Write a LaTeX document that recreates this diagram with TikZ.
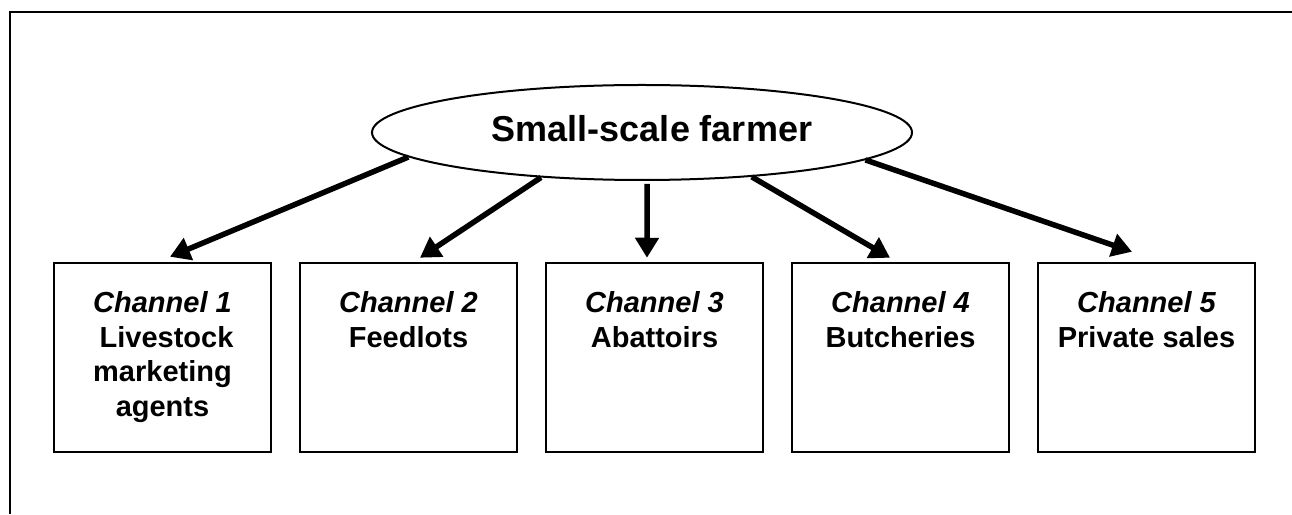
\documentclass[tikz,border=0pt]{standalone}
\usepackage{fontspec}
\setmainfont{Liberation Sans}
\usetikzlibrary{shapes.geometric,arrows.meta,calc}
\begin{document}
\begin{tikzpicture}[x=1pt,y=1pt,
  chanbox/.style={draw,line width=2.5pt,minimum width=217pt,minimum height=189pt,inner sep=0pt},
  chantext/.style={anchor=north,align=center,inner sep=0pt,font=\fontsize{29}{34.5}\selectfont\bfseries},
  flow/.style={line width=5.5pt,-{Triangle[length=20pt,width=23pt]}}]
\useasboundingbox (0,0) rectangle (1292,514);
\draw[line width=2pt] (10,0) -- (10,502) -- (1292,502);
\node[draw,ellipse,line width=2pt,minimum width=540pt,minimum height=95pt,inner sep=0pt] (farmer) at (642,381.5) {};
\node[anchor=base,inner sep=0pt,font=\fontsize{36}{40}\selectfont\bfseries] (farmertext) at (652,372) {Small-scale farmer};
\node[chanbox] (b1) at (162.5,156.5) {};
\node[chanbox] (b2) at (408.5,156.5) {};
\node[chanbox] (b3) at (654.5,156.5) {};
\node[chanbox] (b4) at (900.5,156.5) {};
\node[chanbox] (b5) at (1146.5,156.5) {};
\node[chantext] (t1) at ($(b1.north)+(0,-30)$) {\itshape Channel 1\\\hspace{8pt}Livestock\\marketing\\agents};
\node[chantext] (t2) at ($(b2.north)+(0,-30)$) {\itshape Channel 2\\Feedlots};
\node[chantext] (t3) at ($(b3.north)+(0,-30)$) {\itshape Channel 3\\Abattoirs};
\node[chantext] (t4) at ($(b4.north)+(0,-30)$) {\itshape Channel 4\\Butcheries};
\node[chantext] (t5) at ($(b5.north)+(0,-30)$) {\itshape Channel 5\\Private sales};
\draw[flow] (farmer.186.7) -- ($(b1.north)+(7.5,5)$);
\draw[flow] (farmer.204.7) -- ($(b2.north)+(11.5,4)$);
\draw[flow,shorten <=3pt] (farmer.276) -- ($(b3.north)+(-7.5,4)$);
\draw[flow] (farmer.338.1) -- ($(b4.north)+(-10.5,4)$);
\draw[flow] (farmer.353.2) -- ($(b5.north)+(-14.5,10)$);
\end{tikzpicture}
\end{document}
